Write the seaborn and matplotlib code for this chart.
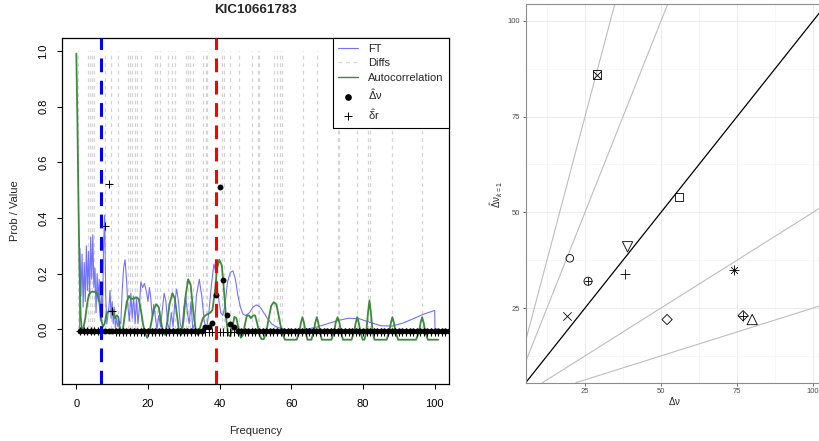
import numpy as np
import pandas as pd
import matplotlib
matplotlib.use("Agg")
import matplotlib.pyplot as plt
from matplotlib.lines import Line2D
import seaborn as sns

sns.set_theme(style="white")
plt.rcParams['font.family'] = ['Liberation Sans', 'DejaVu Sans']
plt.rcParams['mathtext.fontset'] = 'custom'
plt.rcParams['mathtext.rm'] = 'Liberation Sans'
plt.rcParams['mathtext.it'] = 'Liberation Sans:italic'
plt.rcParams['mathtext.bf'] = 'Liberation Sans:bold'

# ---------------- data: left panel ----------------
title = "KIC10661783"
ft_freq = [0.9, 1.0, 1.3, 1.6, 1.9, 2.2, 2.5, 2.8, 3.1, 3.4, 3.7, 4.0, 4.3, 4.6, 4.9,
           5.2, 5.5, 5.8, 6.1, 6.4, 6.7, 7.0, 7.3, 7.6, 7.9, 8.2, 8.5, 8.8, 9.1, 9.4,
           9.7, 10.0, 10.3, 10.6, 10.9, 11.2, 11.6, 12.0, 12.4, 12.8, 13.2, 13.6, 14.0,
           14.4, 14.8, 15.2, 15.6, 16.0, 16.4, 16.8, 17.2, 17.6, 18.0, 18.5, 19.0, 19.5,
           20.0, 20.4, 20.8, 21.2, 21.6, 22.0, 22.5, 23.0, 23.5, 24.0, 24.5, 25.0, 25.5,
           26.0, 26.5, 27.0, 27.5, 28.0, 28.5, 29.0, 29.5, 30.0, 30.5, 31.0, 31.5, 32.0,
           32.5, 33.0, 33.5, 34.3, 35.0, 35.7, 36.3, 37.0, 37.7, 38.4, 39.0, 39.6, 40.3,
           40.9, 41.5, 42.2, 43.0, 43.7, 44.4, 45.1, 45.8, 46.5, 47.3, 48.3, 49.3, 50.3,
           51.3, 52.3, 53.3, 54.5, 56.0, 58.0, 61.0, 64.0, 67.0, 70.0, 73.0, 76.0, 79.0,
           82.0, 85.0, 88.0, 91.0, 94.0, 97.0, 100.0, 100.1, 101.0]
ft_value = [0.0, 0.29, 0.12, 0.27, 0.08, 0.24, 0.10, 0.30, 0.14, 0.28, 0.12, 0.33, 0.18,
            0.34, 0.15, 0.22, 0.06, 0.20, 0.10, 0.18, 0.03, 0.12, 0.05, 0.30, 0.41, 0.12,
            0.02, 0.05, 0.08, 0.14, 0.04, 0.10, 0.02, 0.08, 0.0, 0.04, 0.01, 0.03, 0.02,
            0.14, 0.22, 0.25, 0.18, 0.08, 0.03, 0.13, 0.04, 0.12, 0.02, 0.11, 0.02, 0.08,
            0.17, 0.15, 0.165, 0.14, 0.10, 0.15, 0.11, 0.04, 0.09, 0.05, 0.0, 0.05, 0.01,
            0.07, 0.13, 0.10, 0.02, 0.0, 0.06, 0.01, 0.10, 0.145, 0.10, 0.02, 0.0, 0.08,
            0.12, 0.06, 0.02, 0.10, 0.0, 0.02, 0.12, 0.18, 0.12, 0.03, 0.0, 0.06, 0.16,
            0.235, 0.20, 0.12, 0.06, 0.05, 0.09, 0.17, 0.205, 0.21, 0.18, 0.12, 0.08,
            0.055, 0.05, 0.06, 0.08, 0.088, 0.08, 0.06, 0.04, 0.02, 0.008, 0.0, -0.003,
            0.0, 0.008, 0.02, 0.032, 0.04, 0.038, 0.025, 0.013, 0.012, 0.022, 0.038,
            0.055, 0.068, 0.0, 0.0]

acf_freq = [0.0, 0.3, 0.6, 0.9, 1.2, 1.5, 1.9, 2.5, 3.0, 3.5, 4.2, 5.0, 5.8, 6.4, 6.9,
            7.4, 7.9, 8.4, 9.0, 9.6, 10.2, 10.8, 11.3, 11.7, 12.1, 12.6, 13.0, 13.5, 14.1,
            14.7, 15.3, 16.0, 16.7, 17.4, 18.0, 18.6, 19.2, 19.8, 20.4, 21.0, 21.6, 22.3,
            23.0, 23.6, 24.2, 24.8, 25.4, 26.0, 26.8, 27.5, 28.1, 28.7, 29.3, 29.9, 30.5,
            31.2, 31.9, 32.6, 33.3, 34.0, 34.6, 35.3, 36.0, 36.7, 37.4, 38.0, 38.7, 39.3,
            39.9, 40.6, 41.2, 41.8, 42.4, 43.0, 43.6, 44.1, 44.7, 45.3, 45.9, 46.5, 47.1,
            47.6, 48.2, 48.7, 49.3, 49.9, 50.5, 51.1, 51.7, 52.3, 53.0, 53.7, 54.4, 55.1,
            55.8, 56.3, 56.9, 57.5, 58.2, 61.5, 62.2, 62.7, 63.1, 63.5, 64.0, 64.5, 65.6,
            66.2, 66.7, 67.1, 67.5, 68.0, 68.5, 71.2, 71.9, 72.4, 72.9, 73.4, 73.9, 74.4,
            76.8, 77.5, 78.0, 78.4, 78.8, 79.3, 79.9, 80.4, 80.9, 81.4, 81.8, 82.2, 82.7,
            83.2, 86.6, 87.3, 87.8, 88.2, 88.6, 89.1, 89.8, 94.8, 95.6, 96.1, 96.5, 96.9,
            97.4, 98.1, 101.0]
acf_value = [0.99, 0.75, 0.45, 0.20, 0.05, 0.0, 0.0, 0.04, 0.09, 0.125, 0.135, 0.135,
             0.13, 0.10, 0.04, 0.01, 0.02, 0.055, 0.065, 0.065, 0.07, 0.04, 0.05, 0.045,
             0.01, -0.01, 0.0, 0.05, 0.10, 0.12, 0.11, 0.11, 0.115, 0.11, 0.07, 0.02,
             -0.015, -0.03, -0.01, 0.03, 0.07, 0.09, 0.08, 0.03, -0.01, -0.02, 0.03, 0.09,
             0.13, 0.11, 0.05, -0.01, -0.02, 0.03, 0.12, 0.18, 0.16, 0.07, 0.0, -0.02,
             0.01, 0.04, 0.05, 0.055, 0.06, 0.07, 0.14, 0.22, 0.25, 0.23, 0.14, 0.04,
             -0.02, -0.025, 0.01, 0.045, 0.04, 0.0, -0.03, -0.02, 0.02, 0.05, 0.05, 0.04,
             0.05, 0.05, 0.02, -0.02, -0.035, -0.035, -0.01, 0.04, 0.085, 0.098, 0.09,
             0.06, 0.02, -0.015, -0.037, -0.037, -0.01, 0.025, 0.044, 0.025, -0.01,
             -0.037, -0.037, -0.01, 0.025, 0.044, 0.025, -0.01, -0.037, -0.037, -0.01,
             0.025, 0.044, 0.025, -0.01, -0.037, -0.037, -0.01, 0.025, 0.044, 0.025,
             -0.01, -0.037, -0.037, -0.01, 0.06, 0.104, 0.06, -0.01, -0.037, -0.037,
             -0.01, 0.025, 0.044, 0.025, -0.01, -0.037, -0.037, -0.01, 0.025, 0.044,
             0.025, -0.01, -0.037, -0.037]

diffs = [0.5, 3.3, 3.8, 4.5, 5.0, 7.9, 9.6, 11.7, 14.3, 14.9, 15.5, 16.3, 17.0, 18.0,
         22.0, 22.6, 23.3, 25.6, 26.8, 27.4, 30.7, 31.1, 31.7, 32.5, 35.4, 36.1, 36.6,
         40.7, 41.2, 43.0, 45.5, 49.1, 50.6, 51.1, 55.1, 56.0, 56.8, 57.3, 63.3, 67.1,
         72.9, 73.3, 78.3, 81.3, 82.0, 88.2, 96.5]

grid_freq = list(range(1, 105))
dnu_prob = [-0.006] * 35 + [0.008, 0.01, 0.022, 0.123, 0.51, 0.178, 0.05, 0.02, 0.007] + [-0.006] * 60
dr_prob = [-0.006] * 7 + [0.37, 0.522, 0.065] + [-0.008] * 94

dr_est = 7.0      # blue dashed line
dnu_est = 38.9    # red dashed line

# ---------------- data: right panel ----------------
dnu_true = [29, 56, 39, 20, 26, 38, 19, 52, 74, 77, 80]
dnu_k1 = [86, 54, 41, 38, 32, 34, 23, 22, 35, 23, 22]
shapes = ["square_cross", "square", "tri_down", "circle", "circle_plus", "plus",
          "cross", "diamond", "asterisk", "diamond_plus", "tri_up"]
ref_slopes = [3, 2, 1, 0.5, 0.25]

# ---------------- figure ----------------
W, H = 819, 441
fig = plt.figure(figsize=(W / 100, H / 100), dpi=100)
axL = fig.add_axes([62 / W, 1 - 384 / H, (449 - 62) / W, (384 - 38) / H])
axR = fig.add_axes([525.7 / W, 1 - 382.7 / H, 301 / W, 379 / H])

# left panel
axL.vlines(diffs, 0, 1, colors="#d4d4d4", linestyles=(0, (3, 3)), lw=0.9, zorder=1)
sns.lineplot(x=ft_freq, y=ft_value, ax=axL, color="#7272ff", lw=0.8, sort=False,
             estimator=None, zorder=2)
sns.lineplot(x=acf_freq, y=acf_value, ax=axL, color="#3d8a3d", lw=1.3, sort=False,
             estimator=None, zorder=3)
sns.scatterplot(x=grid_freq, y=dr_prob, ax=axL, marker="+", color="black", s=32,
                linewidth=0.75, zorder=4)
sns.scatterplot(x=grid_freq, y=dnu_prob, ax=axL, marker="o", color="black", s=18,
                linewidth=0, zorder=5)
axL.axvline(dr_est, color="#0000ff", lw=2.2, dashes=(4.5, 2.8), zorder=6)
axL.axvline(dnu_est, color="#ff0000", lw=2.2, dashes=(4.5, 2.8), zorder=6)

axL.set_xlim(-4, 104)
axL.set_ylim(-0.196, 1.046)
axL.set_xticks([0, 20, 40, 60, 80, 100])
axL.set_yticks([0, 0.2, 0.4, 0.6, 0.8, 1.0])
axL.set_yticklabels(["0.0", "0.2", "0.4", "0.6", "0.8", "1.0"])
axL.tick_params(axis="both", direction="out", length=3.6, width=0.8, color="black",
                labelsize=8, labelcolor="black", bottom=True, left=True)
axL.tick_params(axis="x", pad=7.5)
axL.tick_params(axis="y", pad=6.3, labelrotation=90)
for lab in axL.get_yticklabels():
    lab.set_va("center")
for sp in axL.spines.values():
    sp.set_color("black")
    sp.set_linewidth(0.9)
axL.set_xlabel("Frequency", fontsize=8)
axL.set_ylabel("Prob / Value", fontsize=8)
axL.xaxis.label.set_va("center")
axL.yaxis.label.set_va("center")
axL.xaxis.set_label_coords(0.5, -0.1358)
axL.yaxis.set_label_coords(-0.1222, 0.5)
axL.text(0.5, 1.0795, title, transform=axL.transAxes, ha="center", va="center",
         fontsize=9.6, fontweight="bold")

handles = [
    Line2D([], [], color="#7272ff", lw=0.8),
    Line2D([], [], color="#d4d4d4", lw=0.9, ls=(0, (3, 3))),
    Line2D([], [], color="#3d8a3d", lw=1.0),
    Line2D([], [], color="black", marker="o", ls="none", markersize=3.8),
    Line2D([], [], color="black", marker="+", ls="none", markersize=5.5, markeredgewidth=0.7),
]
labels = ["FT", "Diffs", "Autocorrelation", r"$\hat{\mathrm{\Delta}}\mathrm{\nu}$",
          r"$\hat{\mathrm{\delta}}\mathrm{r}$"]
leg = axL.legend(handles, labels, loc="upper right", fontsize=8, frameon=True,
                 fancybox=False, edgecolor="black", framealpha=1, borderaxespad=0,
                 handlelength=1.8, handletextpad=0.85, labelspacing=0.42, borderpad=0.5)
leg.get_frame().set_linewidth(0.8)

# right panel
axR.set_facecolor("white")
axR.set_xlim(5.5, 104.5)
axR.set_ylim(5.5, 104.5)
major = [25, 50, 75, 100]
minor = [12.5, 37.5, 62.5, 87.5]
axR.set_xticks(major)
axR.set_yticks(major)
axR.set_xticks(minor, minor=True)
axR.set_yticks(minor, minor=True)
axR.grid(which="major", color="#ebebeb", lw=0.7)
axR.grid(which="minor", color="#f2f2f2", lw=0.4)
axR.set_axisbelow(True)
for s in ref_slopes:
    axR.axline((0, 0), slope=s, color="black" if s == 1 else "#bdbdbd",
               lw=0.9 if s == 1 else 0.8, zorder=2)

marker_parts = {
    "square_cross": [("s", 34), ("x", 34)],
    "square": [("s", 34)],
    "tri_down": [("v", 55)],
    "circle": [("o", 30)],
    "circle_plus": [("o", 34), ("+", 34)],
    "plus": [("+", 52)],
    "cross": [("x", 36)],
    "diamond": [("D", 27)],
    "asterisk": [("+", 45), ("x", 24)],
    "diamond_plus": [("D", 27), ("+", 52)],
    "tri_up": [("^", 55)],
}
df = pd.DataFrame({"true": dnu_true, "k1": dnu_k1, "shape": shapes})
for shp, sub in df.groupby("shape"):
    for mk, size in marker_parts[shp]:
        if mk in ("+", "x"):
            sns.scatterplot(data=sub, x="true", y="k1", ax=axR, marker=mk, color="black",
                            s=size, linewidth=0.6, zorder=3, legend=False)
        else:
            sns.scatterplot(data=sub, x="true", y="k1", ax=axR, marker=mk,
                            facecolor="none", edgecolor="black", s=size,
                            linewidth=0.6, zorder=3, legend=False)

axR.tick_params(axis="both", which="major", direction="out", length=2.0, width=0.5,
                color="#333333", labelsize=5.5, labelcolor="#4d4d4d", bottom=True, left=True)
axR.tick_params(axis="x", pad=1.8)
axR.tick_params(axis="y", pad=2.3)
axR.tick_params(which="minor", length=0)
for sp in axR.spines.values():
    sp.set_color("#8c8c8c")
    sp.set_linewidth(0.8)
axR.set_xlabel(r"$\mathrm{\Delta\nu}$", fontsize=7)
axR.set_ylabel(r"$\hat{\mathrm{\Delta}}\mathrm{\nu}_{k=1}$", fontsize=7)
axR.xaxis.label.set_va("center")
axR.yaxis.label.set_va("center")
axR.xaxis.set_label_coords(0.496, -0.048)
axR.yaxis.set_label_coords(-0.095, 0.495)

fig.savefig("out.png", dpi=100)
